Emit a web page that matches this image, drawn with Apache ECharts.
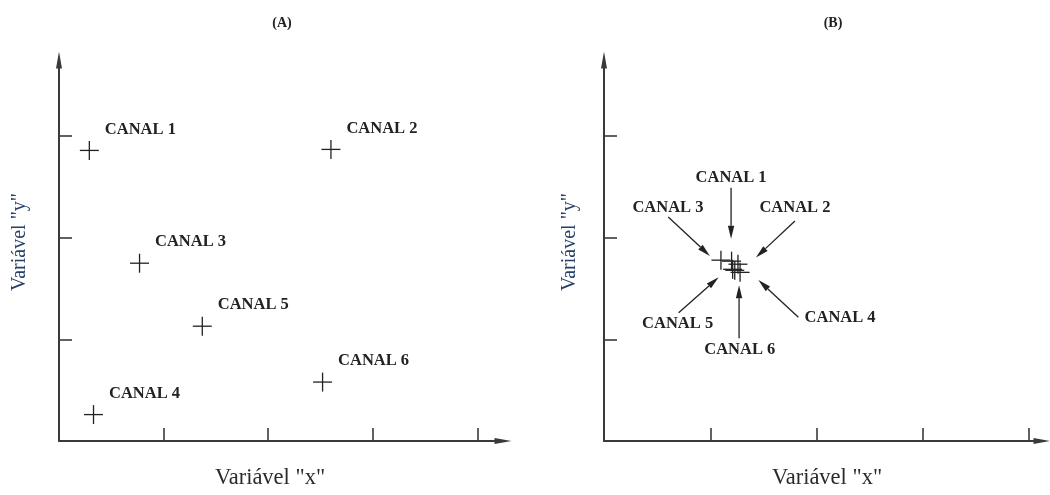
<!DOCTYPE html>
<html>
<head>
<meta charset="utf-8">
<title>Canais – Variável x / Variável y</title>
<script src="https://cdn.jsdelivr.net/npm/echarts@6/dist/echarts.min.js"></script>
<style>
  html, body { margin: 0; padding: 0; background: #ffffff; }
  #chart { width: 1050px; height: 495px; }
</style>
</head>
<body>
<div id="chart"></div>
<script>
// ---- data ----
const channels = ['CANAL 1', 'CANAL 2', 'CANAL 3', 'CANAL 4', 'CANAL 5', 'CANAL 6'];
// panel (A): channels spread over the plane
const xSpread = [0.29, 2.60, 0.77, 0.33, 1.37, 2.52];
const ySpread = [2.86, 2.87, 1.75, 0.26, 1.13, 0.58];
// panel (B): channels gathered around one spot
const xGathered = [1.20, 1.26, 1.10, 1.28, 1.21, 1.23];
const yGathered = [1.77, 1.74, 1.78, 1.66, 1.69, 1.68];
// tick positions (no tick labels are printed)
const xTicks = [1, 2, 3, 4];
const yTicks = [1, 2, 3];
const panelTitles = ['(A)', '(B)'];
const xName = 'Variável "x"';
const yName = 'Variável "y"';

// ---- style ----
const INK = '#222222';
const AXIS_INK = '#3a3a3a';
const SERIF = "'Liberation Serif', 'Times New Roman', 'DejaVu Serif', serif";
const CROSS_HALF = 9.5;
const LABEL_FONT = { fontFamily: SERIF, fontSize: 16.5, fontWeight: 'bold' };

// callout placement for panel (B), in pixels relative to each marker:
// text centre, arrow tail, arrow tip
const callouts = {
  'CANAL 1': { text: [-0.5, -83.5], tail: [-0.5, -73.5], tip: [-0.5, -22.5] },
  'CANAL 2': { text: [57, -56],     tail: [57, -43.3],   tip: [18, -6.7] },
  'CANAL 3': { text: [-53, -52.5],  tail: [-52.7, -43.2], tip: [-11, -4.2] },
  'CANAL 4': { text: [100, 45],     tail: [58.3, 45],    tip: [18.3, 7.7] },
  'CANAL 5': { text: [-55, 54.5],   tail: [-54, 43.5],   tip: [-14, 8] },
  'CANAL 6': { text: [5, 79.7],     tail: [4.3, 68],     tip: [4.3, 15] }
};

function pairs(xs, ys) {
  return channels.map((name, i) => ({ name, value: [xs[i], ys[i]] }));
}

function crossLines(p) {
  const st = { stroke: INK, lineWidth: 1.3 };
  return [
    { type: 'line', shape: { x1: p[0] - CROSS_HALF, y1: p[1], x2: p[0] + CROSS_HALF, y2: p[1] }, style: st },
    { type: 'line', shape: { x1: p[0], y1: p[1] - CROSS_HALF, x2: p[0], y2: p[1] + CROSS_HALF }, style: st }
  ];
}

// markers with a label placed up and to the right
function renderLabelledCross(params, api) {
  const p = api.coord([api.value(0), api.value(1)]);
  const name = channels[params.dataIndex];
  return {
    type: 'group',
    children: crossLines(p).concat([{
      type: 'text',
      x: p[0] + 15.5, y: p[1] - 21,
      style: Object.assign({ text: name, fill: INK, align: 'left', verticalAlign: 'middle' }, LABEL_FONT)
    }])
  };
}

function renderCross(params, api) {
  const p = api.coord([api.value(0), api.value(1)]);
  return { type: 'group', children: crossLines(p) };
}

// callout text with an arrow pointing at the marker
function renderCallout(params, api) {
  const p = api.coord([api.value(0), api.value(1)]);
  const c = callouts[channels[params.dataIndex]];
  const t0 = [p[0] + c.tail[0], p[1] + c.tail[1]];
  const t1 = [p[0] + c.tip[0], p[1] + c.tip[1]];
  const dx = t1[0] - t0[0], dy = t1[1] - t0[1];
  const len = Math.sqrt(dx * dx + dy * dy);
  const ux = dx / len, uy = dy / len;
  const headLen = 13, headHalf = 3.2;
  const bx = t1[0] - ux * headLen, by = t1[1] - uy * headLen;
  return {
    type: 'group',
    children: [
      { type: 'line', shape: { x1: t0[0], y1: t0[1], x2: bx, y2: by }, style: { stroke: INK, lineWidth: 1.3 } },
      { type: 'polygon', shape: { points: [
          t1,
          [bx - uy * headHalf, by + ux * headHalf],
          [bx + uy * headHalf, by - ux * headHalf]
        ] }, style: { fill: INK } },
      { type: 'text', x: p[0] + c.text[0], y: p[1] + c.text[1],
        style: Object.assign({ text: channels[params.dataIndex], fill: INK, align: 'center', verticalAlign: 'middle' }, LABEL_FONT) }
    ]
  };
}

function xAxisFor(gridIndex, max, padding) {
  return {
    type: 'value', gridIndex, min: 0, max,
    name: xName, nameLocation: 'middle', nameGap: 26,
    nameTextStyle: { fontFamily: SERIF, fontSize: 22.5, color: '#2b2b2b', padding },
    axisLine: { show: true, onZero: false, symbol: ['none', 'triangle'], symbolSize: [6, 17],
                lineStyle: { color: AXIS_INK, width: 2 } },
    axisTick: { show: true, inside: true, length: 13, customValues: xTicks,
                lineStyle: { color: AXIS_INK, width: 1.6 } },
    axisLabel: { show: false },
    splitLine: { show: false }
  };
}

function yAxisFor(gridIndex, gap) {
  return {
    type: 'value', gridIndex, min: 0, max: 3.75,
    name: yName, nameLocation: 'middle', nameGap: gap,
    nameTextStyle: { fontFamily: SERIF, fontSize: 20, color: '#26406a', padding: [0, 0, 0, 17] },
    axisLine: { show: true, onZero: false, symbol: ['none', 'triangle'], symbolSize: [6, 17],
                lineStyle: { color: AXIS_INK, width: 2 } },
    axisTick: { show: true, inside: true, length: 13, customValues: yTicks,
                lineStyle: { color: AXIS_INK, width: 1.6 } },
    axisLabel: { show: false },
    splitLine: { show: false }
  };
}

const chart = echarts.init(document.getElementById('chart'), null, { renderer: 'canvas' });
chart.setOption({
  backgroundColor: '#ffffff',
  animation: false,
  title: [
    { text: panelTitles[0], left: 277, top: 11, textAlign: 'center',
      textStyle: { fontFamily: SERIF, fontSize: 14, fontWeight: 'bold', color: INK } },
    { text: panelTitles[1], left: 828, top: 11, textAlign: 'center',
      textStyle: { fontFamily: SERIF, fontSize: 14, fontWeight: 'bold', color: INK } }
  ],
  grid: [
    { left: 59, top: 60, width: 444, height: 385 },
    { left: 604, top: 60, width: 438, height: 385 }
  ],
  xAxis: [xAxisFor(0, 4.245, [0, 22, 0, 0]), xAxisFor(1, 4.12, [0, 0, 0, 8])],
  yAxis: [yAxisFor(0, 29), yAxisFor(1, 24)],
  series: [
    { type: 'custom', xAxisIndex: 0, yAxisIndex: 0, renderItem: renderLabelledCross,
      data: pairs(xSpread, ySpread), clip: false },
    { type: 'custom', xAxisIndex: 1, yAxisIndex: 1, renderItem: renderCross,
      data: pairs(xGathered, yGathered), clip: false },
    { type: 'custom', xAxisIndex: 1, yAxisIndex: 1, renderItem: renderCallout,
      data: pairs(xGathered, yGathered), clip: false }
  ]
});
</script>
</body>
</html>
